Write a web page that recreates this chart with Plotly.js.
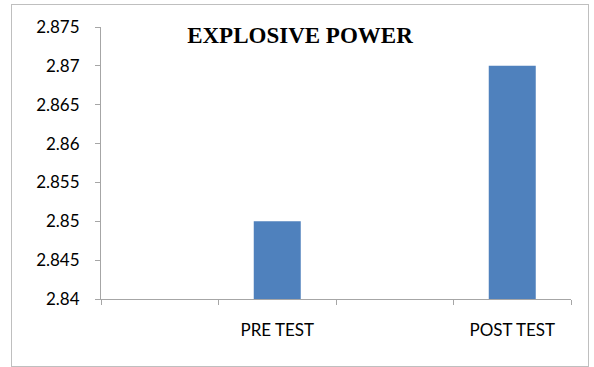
<!DOCTYPE html>
<html>
<head>
<meta charset="utf-8">
<script src="https://cdn.plot.ly/plotly-3.0.1.min.js"></script>
<style>
html,body{margin:0;padding:0;background:#fff;}
#wrap{position:relative;width:594px;height:367px;}
#frame{position:absolute;left:11px;top:4px;width:576px;height:361px;border:1px solid #bfbfbf;pointer-events:none;}
#chart{position:absolute;left:0;top:0;width:594px;height:367px;}
</style>
</head>
<body>
<div id="wrap"><div id="chart"></div><div id="frame"></div></div>
<script>
const categories = [" ", "PRE TEST", "  ", "POST TEST"];
const values = [null, 2.85, null, 2.87];
const yTicks = [2.84, 2.845, 2.85, 2.855, 2.86, 2.865, 2.87, 2.875];
const yTickLabels = ["2.84", "2.845", "2.85", "2.855", "2.86", "2.865", "2.87", "2.875"];
const chartTitle = "EXPLOSIVE POWER";

Plotly.newPlot("chart", [{
  type: "bar",
  x: categories,
  y: values,
  marker: {color: "#4F81BD"},
  width: 0.4,
  hoverinfo: "none"
}], {
  width: 594, height: 367,
  margin: {l: 101, r: 23, t: 27, b: 68},
  paper_bgcolor: "rgba(0,0,0,0)",
  plot_bgcolor: "rgba(0,0,0,0)",
  showlegend: false,
  title: {
    text: "<b>" + chartTitle + "</b>",
    font: {family: "Liberation Serif, Times New Roman, serif", size: 23, color: "#000"},
    x: 0.505, xanchor: "center", y: 0.905, yanchor: "middle"
  },
  xaxis: {
    type: "category",
    range: [-0.5, 3.5],
    showline: true, linecolor: "#a6a6a6", linewidth: 1,
    ticks: "outside", tickson: "boundaries", ticklen: 5, tickcolor: "#a6a6a6",
    showgrid: false, zeroline: false,
    tickfont: {family: "Lato, Open Sans, sans-serif", size: 17, color: "#000"},
    ticklabelstandoff: 16
  },
  yaxis: {
    range: [2.84, 2.875],
    tickvals: yTicks, ticktext: yTickLabels,
    showline: true, linecolor: "#a6a6a6", linewidth: 1,
    ticks: "outside", ticklen: 5, tickcolor: "#a6a6a6",
    showgrid: false, zeroline: false,
    tickfont: {family: "Lato, Open Sans, sans-serif", size: 17, color: "#000"},
    ticklabelstandoff: 12
  },
  bargap: 0.6
}, {displayModeBar: false, staticPlot: true});
</script>
</body>
</html>
